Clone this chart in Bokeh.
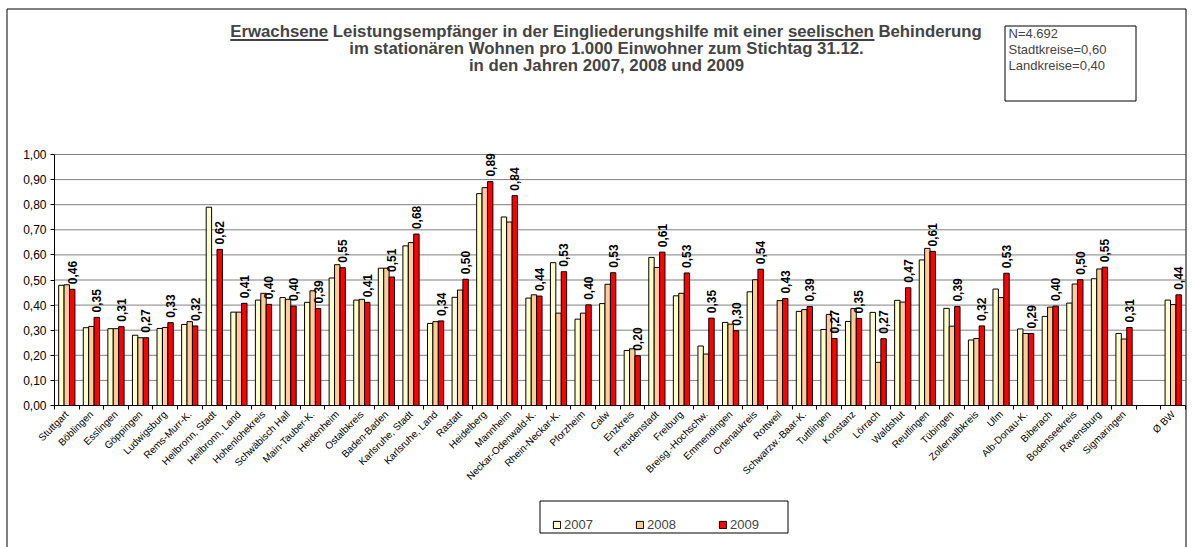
import numpy as np
from math import pi
from bokeh.plotting import figure
from bokeh.models import (ColumnDataSource, Range1d, FixedTicker, CustomJSTickFormatter,
                          Label, BoxAnnotation, Legend, LegendItem)
from bokeh.core.properties import value
from bokeh.transform import dodge
from bokeh.embed import file_html
from bokeh.resources import INLINE

districts = ["Stuttgart", "Böblingen", "Esslingen", "Göppingen", "Ludwigsburg", "Rems-Murr-K.",
             "Heilbronn, Stadt", "Heilbronn, Land", "Hohenlohekreis", "Schwäbisch Hall",
             "Main-Tauber-K.", "Heidenheim", "Ostalbkreis", "Baden-Baden", "Karlsruhe, Stadt",
             "Karlsruhe, Land", "Rastatt", "Heidelberg", "Mannheim", "Neckar-Odenwald-K.",
             "Rhein-Neckar-K.", "Pforzheim", "Calw", "Enzkreis", "Freudenstadt", "Freiburg",
             "Breisg.-Hochschw.", "Emmendingen", "Ortenaukreis", "Rottweil", "Schwarzw.-Baar-K.",
             "Tuttlingen", "Konstanz", "Lörrach", "Waldshut", "Reutlingen", "Tübingen",
             "Zollernalbkreis", "Ulm", "Alb-Donau-K.", "Biberach", "Bodenseekreis", "Ravensburg",
             "Sigmaringen", "", "Ø BW"]

v2007 = [0.479, 0.310, 0.306, 0.280, 0.307, 0.323, 0.790, 0.372, 0.420, 0.430,
         0.411, 0.508, 0.420, 0.547, 0.636, 0.327, 0.431, 0.844, 0.751, 0.428,
         0.569, 0.344, 0.406, 0.219, 0.590, 0.437, 0.237, 0.331, 0.453, None,
         0.375, 0.303, 0.335, 0.371, 0.419, 0.580, 0.387, 0.261, 0.464, 0.305,
         0.355, 0.408, 0.505, 0.287, None, 0.420]
v2008 = [0.481, 0.315, 0.306, 0.270, 0.311, 0.334, None, 0.372, 0.447, 0.423,
         0.457, 0.561, 0.423, 0.547, 0.649, 0.334, 0.460, 0.868, 0.731, 0.441,
         0.368, 0.368, 0.483, 0.226, 0.550, 0.447, 0.205, 0.324, 0.501, 0.418,
         0.382, 0.363, 0.386, 0.172, 0.412, 0.626, 0.316, 0.267, 0.430, 0.287,
         0.392, 0.484, 0.544, 0.265, None, 0.402]
v2009 = [0.463, 0.351, 0.314, 0.270, 0.330, 0.317, 0.622, 0.407, 0.403, 0.396,
         0.386, 0.549, 0.411, 0.512, 0.683, 0.337, 0.503, 0.892, 0.836, 0.436,
         0.533, 0.401, 0.529, 0.198, 0.611, 0.528, 0.348, 0.298, 0.543, 0.426,
         0.394, 0.267, 0.347, 0.266, 0.469, 0.614, 0.394, 0.317, 0.527, 0.287,
         0.396, 0.501, 0.551, 0.311, None, 0.441]

years = ["2007", "2008", "2009"]
colors = ["#FFFFCC", "#FFCC99", "#FF0000"]
y_ticks = [round(i * 0.1, 1) for i in range(11)]

title_lines = ["Erwachsene Leistungsempfänger in der Eingliederungshilfe mit einer seelischen Behinderung",
               "im stationären Wohnen pro 1.000 Einwohner zum Stichtag 31.12.",
               "in den Jahren 2007, 2008 und 2009"]
underlined = ["Erwachsene", "seelischen"]
info_lines = ["N=4.692", "Stadtkreise=0,60", "Landkreise=0,40"]

FONT = "Liberation Sans"
TSIZE = 16.8

# Arial Bold advance widths (per 1000 em) for underline placement
AB = {' ': 278, 'E': 667, 'L': 611, 'B': 722, 'a': 556, 'ä': 556, 'b': 611, 'c': 556, 'd': 611,
      'e': 556, 'f': 333, 'g': 611, 'h': 611, 'i': 278, 'l': 278, 'm': 889, 'n': 611, 'p': 611,
      'r': 389, 's': 556, 't': 333, 'u': 611, 'w': 778}


def tw(s, size):
    return sum(AB.get(c, 556) for c in s) * size / 1000.0


n = len(districts)
W, H = 1190, 547
# plot area inside the canvas (pixels)
PL, PR, PT, PB = 54.0, 1185.0, 154.0, 405.0
slot = (PR - PL) / n
xr0 = -0.5 - PL / slot
xr1 = n - 0.5 + (W - PR) / slot
ppu = (PB - PT) / 1.0
yr0 = -(H - PB) / ppu
yr1 = 1.0 + PT / ppu

p = figure(width=W, height=H, output_backend="svg", toolbar_location=None,
           x_range=Range1d(xr0, xr1), y_range=Range1d(yr0, yr1),
           min_border_left=0, min_border_right=0, min_border_top=0, min_border_bottom=0)
p.outline_line_color = None
p.background_fill_color = "white"
p.border_fill_color = "white"

# grid lines across the plot area at the y ticks
p.segment(x0=[-0.5] * len(y_ticks), x1=[n - 0.5] * len(y_ticks), y0=y_ticks, y1=y_ticks,
          line_color="#808080", line_width=1)

series = [v2007, v2008, v2009]
offsets = [-0.22, 0.0, 0.22]
rends = []
for yr, vals, col, off in zip(years, series, colors, offsets):
    xs = [i for i, v in enumerate(vals) if v is not None]
    ys = [v for v in vals if v is not None]
    src = ColumnDataSource(dict(x=xs, top=ys))
    r = p.vbar(x=dodge("x", off), top="top", width=0.22, source=src,
               fill_color=col, line_color="black", line_width=1)
    rends.append(r)

# data labels on 2009
lx = [i for i, v in enumerate(v2009) if v is not None]
ly = [v for v in v2009 if v is not None]
lt = [f"{v:.2f}".replace(".", ",") for v in ly]
lsrc = ColumnDataSource(dict(x=lx, y=ly, t=lt))
p.text(x=dodge("x", 0.22), y="y", text="t", source=lsrc, angle=pi / 2,
       text_align="left", text_baseline="middle", y_offset=-5,
       text_font=value(FONT), text_font_style="bold", text_font_size="12px", text_color="black")

# axes placed at the plot area edges
p.xaxis.fixed_location = 0
p.yaxis.fixed_location = -0.5
p.xaxis.bounds = (-0.5, n - 0.5)
p.yaxis.bounds = (0, 1.0)
p.xaxis.ticker = FixedTicker(ticks=list(range(n)), minor_ticks=[i - 0.5 for i in range(n + 1)])
p.xaxis.major_label_overrides = {i: name for i, name in enumerate(districts)}
p.xaxis.major_label_orientation = pi / 4
p.xaxis.major_tick_out = 0
p.xaxis.major_tick_in = 0
p.xaxis.minor_tick_out = 4
p.xaxis.minor_tick_in = 0
p.xaxis.minor_tick_line_color = "black"
p.xaxis.axis_line_color = "black"
p.xaxis.major_label_text_font = FONT
p.xaxis.major_label_text_font_size = "10px"
p.xaxis.major_label_text_color = "black"
p.xaxis.major_label_standoff = 3

p.yaxis.ticker = FixedTicker(ticks=y_ticks, minor_ticks=[])
p.yaxis.formatter = CustomJSTickFormatter(code="return tick.toFixed(2).replace('.', ',');")
p.yaxis.major_tick_out = 4
p.yaxis.major_tick_in = 0
p.yaxis.major_tick_line_color = "black"
p.yaxis.axis_line_color = "black"
p.yaxis.major_label_text_font = FONT
p.yaxis.major_label_text_font_size = "12px"
p.yaxis.major_label_text_color = "black"
p.yaxis.major_label_standoff = 4

p.xgrid.grid_line_color = None
p.ygrid.grid_line_color = None


def sc(X, Y):
    """page pixel -> frame screen units (x from left, y up from bottom)"""
    return X, H - Y


def box(l, t, r, b, **kw):
    sl, st = sc(l, t)
    sr, sb = sc(r, b)
    return BoxAnnotation(left=sl, right=sr, top=st, bottom=sb, left_units="screen",
                         right_units="screen", top_units="screen", bottom_units="screen", **kw)


# outer border
p.add_layout(box(6.5, 8.5, 1185.5, 600, fill_alpha=0, line_color="black", line_alpha=1,
                 line_width=1))

# title
cxp = 606
ty = [31, 48, 65]
lw0 = tw(title_lines[0], TSIZE)
x0p = cxp - lw0 / 2
sx0, sy0 = sc(x0p, ty[0])
p.add_layout(Label(x=sx0, y=sy0, x_units="screen", y_units="screen", text=title_lines[0],
                   text_font=FONT, text_font_style="bold", text_font_size=f"{TSIZE}px",
                   text_align="left", text_baseline="middle"))
for t, yy in zip(title_lines[1:], ty[1:]):
    sx, sy = sc(cxp, yy)
    p.add_layout(Label(x=sx, y=sy, x_units="screen", y_units="screen", text=t,
                       text_font=FONT, text_font_style="bold", text_font_size=f"{TSIZE}px",
                       text_align="center", text_baseline="middle"))
for word in underlined:
    k = title_lines[0].index(word)
    ux0 = x0p + tw(title_lines[0][:k], TSIZE)
    ux1 = ux0 + tw(word, TSIZE)
    uy = ty[0] + 8.5
    p.add_layout(box(ux0, uy - 0.75, ux1, uy + 0.75, fill_color="black", fill_alpha=1,
                     line_color=None))

# info box
p.add_layout(box(1004.5, 25.5, 1135.5, 100.5, fill_color="white", fill_alpha=1,
                 line_color="black", line_alpha=1, line_width=1))
for t, yy in zip(info_lines, [33, 49, 65]):
    sx, sy = sc(1008, yy)
    p.add_layout(Label(x=sx, y=sy, x_units="screen", y_units="screen", text=t,
                       text_font=FONT, text_font_size="13px", text_align="left",
                       text_baseline="middle"))

# legend
p.add_layout(box(539.5, 500.5, 787.5, 532.5, fill_color="white", fill_alpha=1,
                 line_color="black", line_alpha=1, line_width=1))
lgx, lgy = sc(552, 532)
legend = Legend(items=[LegendItem(label=yr, renderers=[r]) for yr, r in zip(years, rends)],
                location=(lgx, lgy), orientation="horizontal",
                glyph_width=9, glyph_height=9, label_standoff=3, label_width=36, spacing=35,
                label_height=16, padding=8, margin=0, border_line_color=None,
                background_fill_alpha=0, label_text_font=FONT, label_text_font_size="13px")
p.add_layout(legend, "center")

open("out.html", "w").write(file_html(p, INLINE))
